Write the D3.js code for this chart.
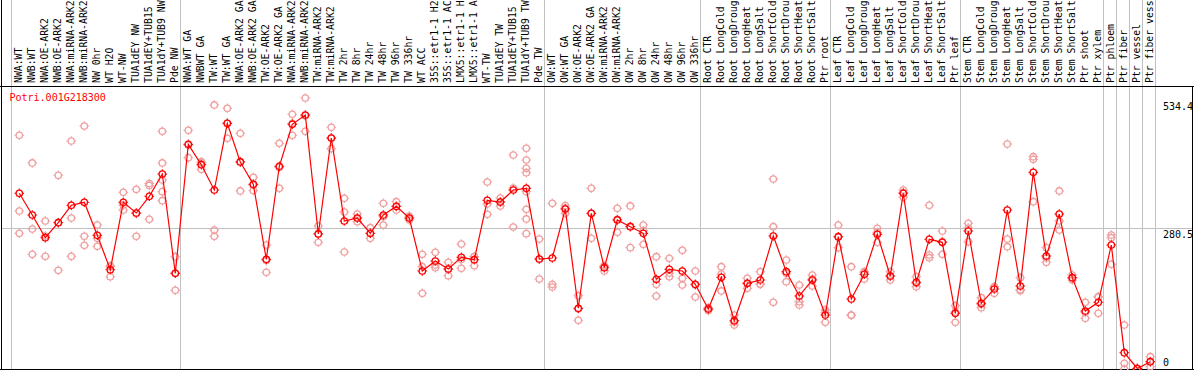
<!DOCTYPE html>
<html><head><meta charset="utf-8">
<script src="https://cdn.jsdelivr.net/npm/d3@7/dist/d3.min.js"></script>
<style>html,body{margin:0;padding:0;background:#fff;overflow:hidden}svg{display:block}text{font-family:"DejaVu Sans Mono",monospace;font-size:10px}</style>
</head><body><svg id="c" width="1194" height="370"></svg>
<script>
const title = "Potri.001G218300";
const categories = ["NWA:WT","NWB:WT","NWA:OE-ARK2","NWB:OE-ARK2","NWA:miRNA-ARK2","NWB:miRNA-ARK2","NW 0hr","WT H2O","WT-NW","TUA1dEY NW","TUA1dEY+TUB15 NW","TUA1dY+TUB9 NW","Pde NW",
"NWA:WT GA","NWBWT GA","TW:WT","TW:WT GA","NWA:OE-ARK2 GA","NWB:OE-ARK2 GA","TW:OE-ARK2","TW:OE-ARK2 GA","NWA:miRNA-ARK2","NWB:miRNA-ARK2","TW:miRNA-ARK2","TW:miRNA-ARK2","TW 2hr","TW 8hr","TW 24hr","TW 48hr","TW 96hr","TW 336hr","WT ACC","35S::etr1-1 H2O","35S::etr1-1 ACC","LMX5::etr1-1 H2O","LMX5::etr1-1 ACC","WT-TW","TUA1dEY TW","TUA1dEY+TUB15 TW","TUA1dY+TUB9 TW","Pde TW",
"OW:WT","OW:WT GA","OW:OE-ARK2","OW:OE-ARK2 GA","OW:miRNA-ARK2","OW:miRNA-ARK2","OW 2hr","OW 8hr","OW 24hr","OW 48hr","OW 96hr","OW 336hr",
"Root CTR","Root LongCold","Root LongDrought","Root LongHeat","Root LongSalt","Root ShortCold","Root ShortDrought","Root ShortHeat","Root ShortSalt","Ptr root",
"Leaf CTR","Leaf LongCold","Leaf LongDrought","Leaf LongHeat","Leaf LongSalt","Leaf ShortCold","Leaf ShortDrought","Leaf ShortHeat","Leaf ShortSalt","Ptr leaf",
"Stem CTR","Stem LongCold","Stem LongDrought","Stem LongHeat","Stem LongSalt","Stem ShortCold","Stem ShortDrought","Stem ShortHeat","Stem ShortSalt","Ptr shoot","Ptr xylem",
"Ptr phloem","Ptr fiber","Ptr vessel","Ptr fiber vessel"];
const labelMaxChars = 14;
const groupStarts = [0,13,41,53,63,73,84,85,86,87,88];
const means = [350.2,306.9,261.7,291.6,326.3,332.2,266.5,197.9,332.2,310.9,344.2,388.6,190.7,
447.8,407.2,356.7,489.7,412.6,368.1,218.6,404.0,487.7,506.2,269.1,460.4,295.0,300.9,270.4,306.9,324.3,300.9,195.3,215.2,199.3,222.6,217.8,336.2,332.8,356.7,360.1,219.2,
221.2,318.9,121.0,310.3,201.9,297.0,283.6,270.4,178.8,198.7,195.3,168.8,
119.6,182.8,96.3,170.8,177.4,265.1,193.9,145.5,177.4,107.6,
263.7,139.5,188.7,268.5,185.3,350.2,172.8,258.5,252.5,111.0,
275.0,130.9,159.4,316.9,165.4,392.0,225.2,308.9,182.0,115.6,132.9,
247.1,32.5,1.0,14.5];
const replicates = [
[465.8,314.9,270.4],[410.6,279.0,228.6],[295.0,265.0,224.6],[386.0,292.0,196.7],[454.4,300.9,224.6],
[484.3,264.5,246.5],[287.0,260.5,244.5],[205.9,203.9,184.0],[352.2,326.9,316.9],[358.1,310.1,264.5],
[369.7,365.7,298.3],[473.7,410.6,376.7,353.4,335.4],[223.8,191.3,156.8],
[475.7,446.4,421.1],[413.1,410.6,398.0],[526.2,277.0,264.5],[519.6,489.5,459.8],[469.7,413.1,354.8],
[382.1,366.7,355.6],[247.1,216.0,192.7],[449.8,401.8,360.1],[507.6,489.5,465.8],[540.1,504.8,473.7],
[285.0,269.7,252.5],[481.7,460.4,439.1],[340.2,312.9,233.2],[308.9,300.3,293.6],[281.6,270.0,260.5],
[330.2,303.5,287.0],[333.4,323.9,316.9],[304.9,300.9,297.0],[228.6,203.9,150.9],[232.6,207.3,201.9],
[212.7,199.3,186.0],[249.1,218.0,200.7],[223.8,224.0,205.9],[372.7,328.8,308.3],[340.8,332.8,324.9],
[426.5,360.7,283.0],[439.9,416.5,400.0,391.2,353.4,318.3,299.0,269.7],[259.1,219.2,179.4],
[330.2,168.8,163.4],[325.5,320.9,310.3],[146.1,119.6,97.1],[360.1,310.1,260.5],[205.9,204.7,195.3],
[320.3,298.2,272.4],[324.9,284.4,241.8],[287.0,275.6,248.5],[223.8,168.8,145.5],[220.6,191.3,184.0],
[236.6,180.8,167.4],[195.3,167.4,143.5],
[122.2,119.6,116.6],[203.9,189.3,155.5],[107.6,93.7,87.7],[180.8,170.6,160.8],[193.9,169.4,168.8],
[378.7,283.6,132.9],[217.2,190.7,174.0],[167.4,134.1,127.6],[187.3,179.4,165.4],[117.6,112.2,93.1],
[287.0,262.5,241.8],[203.9,107.6,107.0],[193.9,192.7,179.4],[280.4,272.2,252.5],[193.9,184.8,177.4],
[356.7,351.4,342.2],[184.0,170.2,164.0],[326.3,227.2,221.8],[275.0,253.7,228.6],[126.2,113.6,93.1],
[290.4,281.0,253.7],[142.1,128.3,122.2],[164.0,163.4,150.9],[448.4,259.1,243.7],[182.0,158.2,156.0],
[423.1,417.9,333.4],[241.8,221.2,212.7],[354.8,295.0,277.0],[187.3,181.4,177.4],[132.9,112.8,101.0],
[144.1,143.5,111.0],
[267.1,261.7,208.7],[87.7,11.4,0],[1.5,1.0,0.5],[24.5,14.7,4.6]];
const yTicks = [534.4, 280.5, 0];

const W = 1194, H = 370, headerY = 86, bottomY = 369;
const svg = d3.select("#c");
const idx = d3.range(categories.length);
const x = d3.scaleLinear().domain([0, 1]).range([19.3, 32.3]);
const y = d3.scaleLinear().domain([0, 564]).range([bottomY, headerY]);

// vertical gray group separators
svg.append("g").selectAll("line").data(groupStarts).join("line")
  .attr("x1", d => Math.round(x(d) - 8) + 0.5).attr("x2", d => Math.round(x(d) - 8) + 0.5)
  .attr("y1", 0).attr("y2", bottomY)
  .attr("stroke", "#c0c0c0").attr("stroke-width", 1);

// horizontal grid at middle tick
svg.append("line").attr("x1", 1).attr("x2", W - 1)
  .attr("y1", Math.round(y(280.5)) + 0.5).attr("y2", Math.round(y(280.5)) + 0.5)
  .attr("stroke", "#c0c0c0");

// borders
svg.append("line").attr("x1", 0).attr("x2", W).attr("y1", headerY + 0.5).attr("y2", headerY + 0.5).attr("stroke", "#000");
svg.append("line").attr("x1", 1.5).attr("x2", 1.5).attr("y1", 0).attr("y2", H).attr("stroke", "#000");
svg.append("line").attr("x1", W - 1.5).attr("x2", W - 1.5).attr("y1", headerY).attr("y2", H).attr("stroke", "#000");
svg.append("line").attr("x1", 0).attr("x2", W).attr("y1", bottomY + 0.5).attr("y2", bottomY + 0.5).attr("stroke", "#000");

// category labels (header shows at most 14 characters)
svg.append("g").selectAll("text").data(idx).join("text")
  .attr("transform", i => `translate(${x(i) + 2.6},83) rotate(-90)`)
  .attr("text-anchor", "start").attr("fill", "#000")
  .style("font-size", "9.8px")
  .text(i => categories[i].slice(0, labelMaxChars));

// y tick labels (right)
svg.append("g").selectAll("text").data(yTicks).join("text")
  .attr("x", 1163).attr("y", d => d === 0 ? y(d) - 3.5 : y(d) + 9.5)
  .attr("fill", "#000").text(d => d);

// title
svg.append("text").attr("x", 9.5).attr("y", 100.5).attr("fill", "#ff0000").text(title);

function marker(g, color) {
  const r = 3.2;
  g.append("circle").attr("r", r).attr("fill", "none").attr("stroke", color).attr("stroke-width", 1.3);
  [[0,-1],[0,1],[-1,0],[1,0]].forEach(([dx, dy]) => {
    g.append("line").attr("x1", dx * r).attr("y1", dy * r).attr("x2", dx * (r + 1.6)).attr("y2", dy * (r + 1.6))
      .attr("stroke", color).attr("stroke-width", 1.1);
  });
}

// replicate points
const reps = [];
replicates.forEach((arr, i) => arr.forEach(v => reps.push({i, v})));
svg.append("g").selectAll("g").data(reps).join("g")
  .attr("transform", d => `translate(${x(d.i)},${y(d.v)})`)
  .each(function() { marker(d3.select(this), "#f0a0a0"); });

// mean line
svg.append("path").datum(idx)
  .attr("d", d3.line().x(i => x(i)).y(i => y(means[i])))
  .attr("fill", "none").attr("stroke", "#ff0000").attr("stroke-width", 1.2);

// mean points
svg.append("g").selectAll("g").data(idx).join("g")
  .attr("transform", i => `translate(${x(i)},${y(means[i])})`)
  .each(function() { marker(d3.select(this), "#ff0000"); });
</script></body></html>
